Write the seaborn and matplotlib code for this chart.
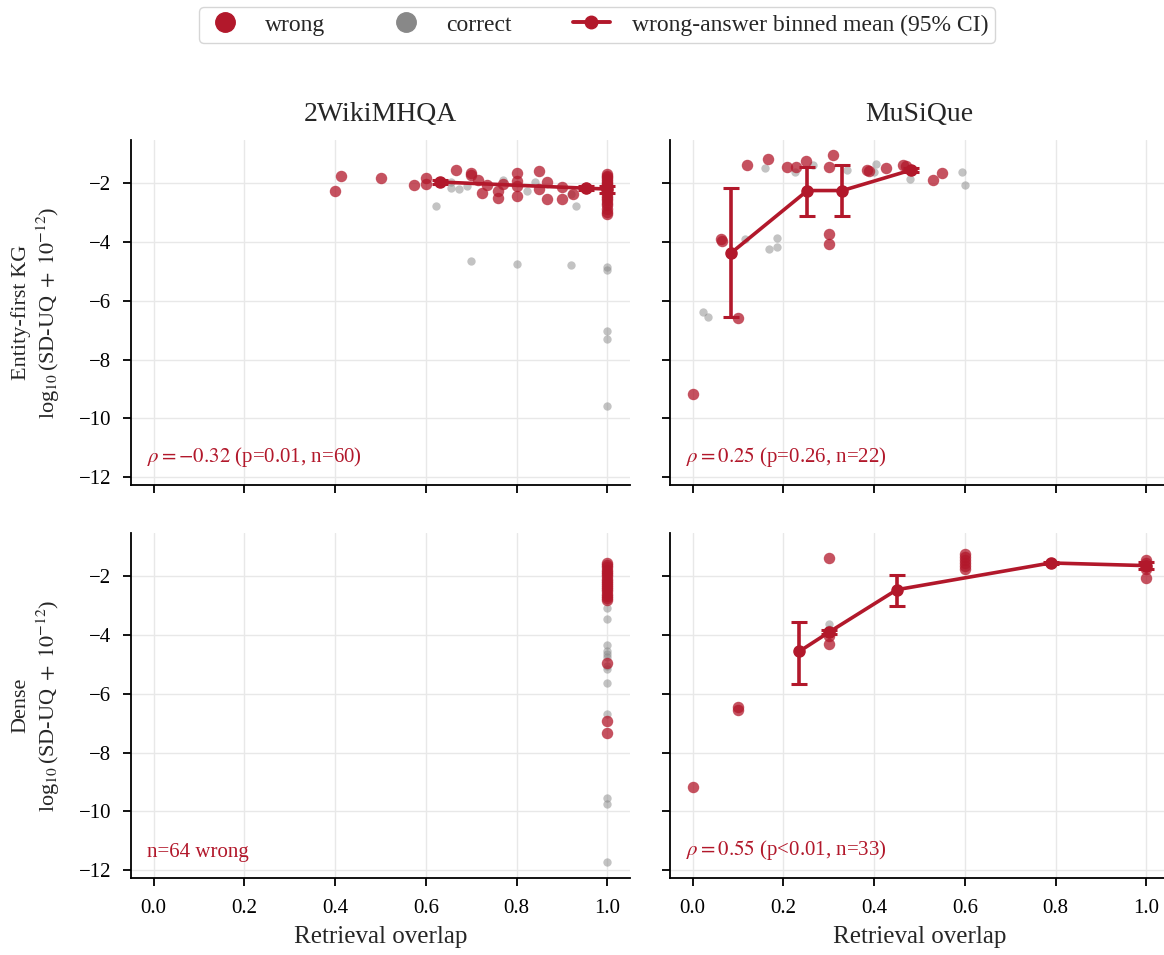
import pandas as pd
import seaborn as sns
import matplotlib.pyplot as plt
from matplotlib.lines import Line2D

sns.set_theme(style="ticks")
plt.rcParams['font.family'] = ['Liberation Serif', 'DejaVu Serif']
plt.rcParams['mathtext.fontset'] = 'stix'

RED = '#B2182B'
GREY = '#888888'

# ---- data ----
# Entity-first KG / 2WikiMHQA
kg_wiki_wrong_x = [0.40, 0.412, 0.50, 0.574, 0.60, 0.60, 0.666, 0.699, 0.699, 0.716, 0.724,
                   0.734, 0.758, 0.758, 0.771, 0.80, 0.80, 0.80, 0.80, 0.85, 0.85, 0.866,
                   0.866, 0.90, 0.90, 0.925, 0.953] + [1.0] * 20
kg_wiki_wrong_y = [-2.27, -1.77, -1.82, -2.05, -1.82, -2.02, -1.55, -1.64, -1.73, -1.89, -2.33,
                   -2.05, -2.50, -2.25, -2.02, -1.65, -1.91, -2.08, -2.45, -1.59, -2.19, -1.97,
                   -2.53, -2.14, -2.55, -2.36, -2.17,
                   -1.70, -1.75, -1.80, -1.86, -1.92, -1.98, -2.04, -2.10, -2.16, -2.22,
                   -2.28, -2.35, -2.42, -2.50, -2.58, -2.66, -2.75, -2.88, -2.98, -3.04]
kg_wiki_corr_x = [0.622, 0.656, 0.656, 0.674, 0.69, 0.70, 0.771, 0.80, 0.822, 0.84, 0.92,
                  0.92, 0.932, 1.0, 1.0, 1.0, 1.0, 1.0]
kg_wiki_corr_y = [-2.78, -2.16, -1.97, -2.19, -2.08, -4.64, -1.89, -4.76, -2.27, -1.97, -4.79,
                  -2.36, -2.79, -4.85, -4.94, -7.03, -7.31, -9.57]
kg_wiki_bin_x = [0.631, 0.953, 1.0]
kg_wiki_bin_y = [-1.96, -2.17, -2.20]
kg_wiki_bin_lo = [-2.04, -2.23, -2.32]
kg_wiki_bin_hi = [-1.88, -2.11, -2.08]

# Entity-first KG / MuSiQue
kg_musi_wrong_x = [0.0, 0.062, 0.065, 0.10, 0.12, 0.166, 0.207, 0.228, 0.25, 0.30, 0.30, 0.30,
                   0.31, 0.385, 0.388, 0.427, 0.464, 0.471, 0.529, 0.549]
kg_musi_wrong_y = [-9.16, -3.90, -3.97, -6.60, -1.37, -1.19, -1.44, -1.46, -1.25, -1.46, -3.72,
                   -4.08, -1.05, -1.55, -1.59, -1.48, -1.37, -1.41, -1.89, -1.66]
kg_musi_corr_x = [0.023, 0.034, 0.115, 0.159, 0.169, 0.185, 0.185, 0.226, 0.266, 0.341, 0.40,
                  0.405, 0.479, 0.593, 0.60]
kg_musi_corr_y = [-6.37, -6.54, -3.90, -1.48, -4.23, -3.85, -4.17, -1.63, -1.39, -1.55, -1.63,
                  -1.34, -1.85, -1.61, -2.05]
kg_musi_bin_x = [0.085, 0.253, 0.33, 0.482]
kg_musi_bin_y = [-4.37, -2.25, -2.25, -1.55]
kg_musi_bin_lo = [-6.57, -3.13, -3.13, -1.62]
kg_musi_bin_hi = [-2.16, -1.44, -1.37, -1.48]

# Dense / 2WikiMHQA
dense_wiki_wrong_x = [1.0] * 21
dense_wiki_wrong_y = [-1.55, -1.62, -1.70, -1.78, -1.85, -1.92, -2.00, -2.08, -2.15, -2.22,
                      -2.30, -2.38, -2.45, -2.52, -2.60, -2.68, -2.75, -2.82, -4.97, -6.92, -7.32]
dense_wiki_corr_x = [1.0] * 13
dense_wiki_corr_y = [-3.07, -3.47, -4.35, -4.55, -4.65, -4.76, -5.05, -5.15, -5.62, -6.69,
                     -9.56, -9.75, -11.71]

# Dense / MuSiQue
dense_musi_wrong_x = [0.0, 0.10, 0.10, 0.30, 0.30, 0.30, 0.30, 0.60, 0.60, 0.60, 0.60, 0.60,
                      0.60, 1.0, 1.0, 1.0, 1.0, 1.0]
dense_musi_wrong_y = [-9.17, -6.46, -6.57, -1.39, -3.90, -4.02, -4.30, -1.25, -1.35, -1.45,
                      -1.55, -1.65, -1.75, -1.45, -1.55, -1.65, -1.75, -2.07]
dense_musi_corr_x = [0.30, 0.30]
dense_musi_corr_y = [-3.62, -3.79]
dense_musi_bin_x = [0.235, 0.301, 0.45, 0.789, 1.0]
dense_musi_bin_y = [-4.56, -3.90, -2.46, -1.55, -1.64]
dense_musi_bin_lo = [-5.66, -3.98, -3.02, -1.58, -1.75]
dense_musi_bin_hi = [-3.56, -3.82, -1.95, -1.52, -1.53]

datasets = ['2WikiMHQA', 'MuSiQue']
retrievers = ['Entity-first KG', 'Dense']

panels = [
    [(kg_wiki_wrong_x, kg_wiki_wrong_y, kg_wiki_corr_x, kg_wiki_corr_y,
      (kg_wiki_bin_x, kg_wiki_bin_y, kg_wiki_bin_lo, kg_wiki_bin_hi),
      r'$\rho = -0.32$ (p=0.01, n=60)'),
     (kg_musi_wrong_x, kg_musi_wrong_y, kg_musi_corr_x, kg_musi_corr_y,
      (kg_musi_bin_x, kg_musi_bin_y, kg_musi_bin_lo, kg_musi_bin_hi),
      r'$\rho = 0.25$ (p=0.26, n=22)')],
    [(dense_wiki_wrong_x, dense_wiki_wrong_y, dense_wiki_corr_x, dense_wiki_corr_y,
      None, 'n=64 wrong'),
     (dense_musi_wrong_x, dense_musi_wrong_y, dense_musi_corr_x, dense_musi_corr_y,
      (dense_musi_bin_x, dense_musi_bin_y, dense_musi_bin_lo, dense_musi_bin_hi),
      r'$\rho = 0.55$ (p<0.01, n=33)')],
]

fig, axes = plt.subplots(2, 2, figsize=(11.64, 9.55), dpi=100, sharex=True, sharey=True)

# explicit axes placement (pixels -> figure fraction)
W, H = 1164, 955
lefts = [131, 670]
tops = [140, 533]
for r in range(2):
    for c in range(2):
        axes[r, c].set_position([lefts[c] / W, (H - tops[r] - 345) / H, 499 / W, 345 / H])

for r in range(2):
    for c in range(2):
        ax = axes[r, c]
        wx, wy, cx, cy, bins, note = panels[r][c]

        corr = pd.DataFrame({'overlap': cx, 'sduq': cy})
        wrong = pd.DataFrame({'overlap': wx, 'sduq': wy})
        sns.scatterplot(data=corr, x='overlap', y='sduq', color=GREY, alpha=0.5,
                        s=36, linewidth=0, ax=ax, zorder=2)
        sns.scatterplot(data=wrong, x='overlap', y='sduq', color=RED, alpha=0.75,
                        s=68, linewidth=0, ax=ax, zorder=3)

        if bins is not None:
            bx, by, blo, bhi = bins
            err = [[m - lo for m, lo in zip(by, blo)], [hi - m for m, hi in zip(by, bhi)]]
            ax.errorbar(bx, by, yerr=err, color=RED, lw=2.6, marker='o', ms=8,
                        capsize=6, capthick=2.2, elinewidth=2.6, zorder=4)

        ax.text(0.032, 0.045, note, transform=ax.transAxes, color=RED,
                fontsize=15, ha='left', va='bottom')

        ax.set_xlim(-0.05, 1.05)
        ax.set_ylim(-12.27, -0.53)
        ax.set_xticks([0.0, 0.2, 0.4, 0.6, 0.8, 1.0])
        ax.set_yticks([-12, -10, -8, -6, -4, -2])
        ax.grid(True, color='#e8e8e8', linewidth=1.0)
        ax.set_axisbelow(True)
        ax.tick_params(direction='out', length=6, width=1.3, labelsize=15, colors='black')
        ax.tick_params(axis='x', pad=9)
        ax.tick_params(axis='y', pad=8)
        for side in ['left', 'bottom']:
            ax.spines[side].set_linewidth(1.3)
            ax.spines[side].set_color('black')
        ax.set_xlabel('')
        ax.set_ylabel('')

        if r == 0:
            ax.set_title(datasets[c], fontsize=20, pad=14)
        if r == 1:
            ax.set_xlabel('Retrieval overlap', fontsize=18, labelpad=6)
        if c == 0:
            ax.set_ylabel(retrievers[r] + '\n' + r'log$_{10}\,$(SD-UQ$\;+\;10^{-12}$)',
                          fontsize=16, labelpad=12)

sns.despine(fig=fig)

handles = [
    Line2D([], [], marker='o', ls='none', color=RED, ms=14, label='wrong'),
    Line2D([], [], marker='o', ls='none', color=GREY, ms=14, label='correct'),
    Line2D([], [], marker='o', color=RED, lw=2.8, ms=9,
           label='wrong-answer binned mean (95% CI)'),
]
fig.legend(handles=handles, loc='upper center', bbox_to_anchor=(597 / W, 1 - 7 / H),
           ncol=3, fontsize=17, frameon=True, edgecolor='#cccccc', fancybox=True,
           borderpad=0.3, borderaxespad=0, handlelength=1.6, columnspacing=2.6,
           handletextpad=0.9)

fig.savefig('out.png', dpi=100)
